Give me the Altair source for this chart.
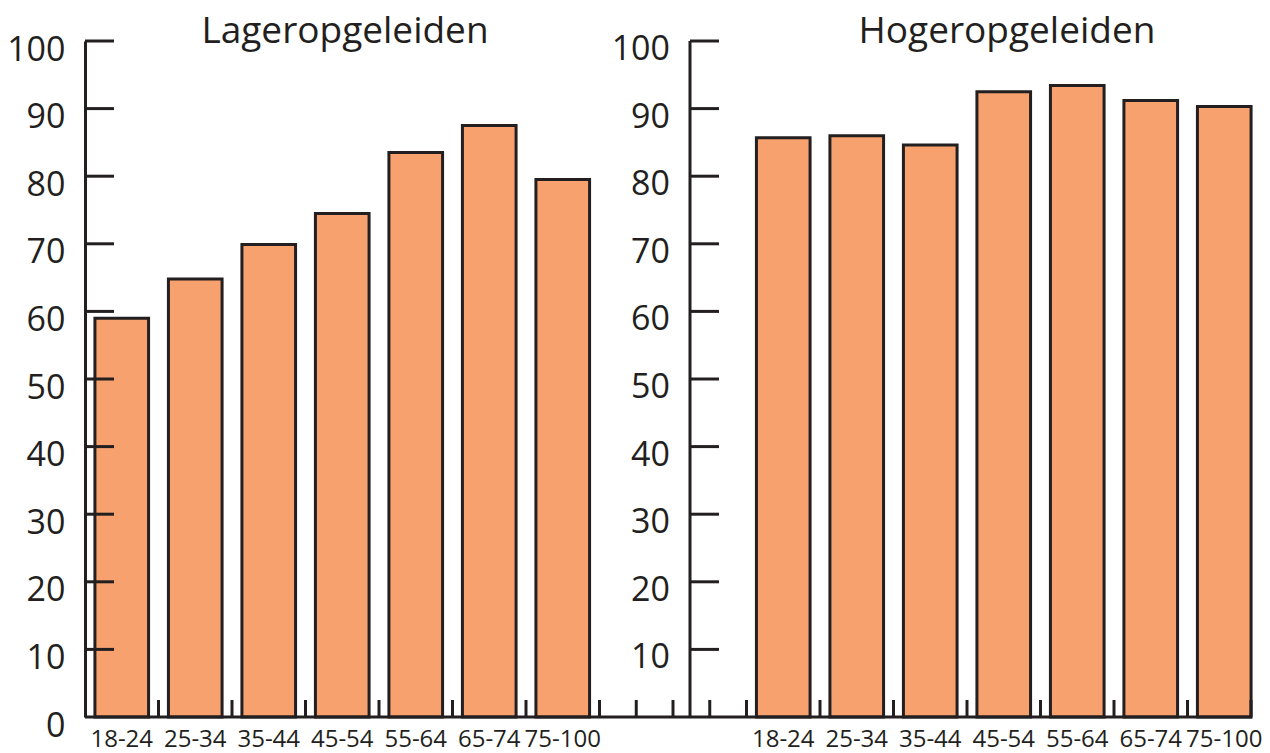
import altair as alt
import pandas as pd

# ---- data ----
ages = ["18-24", "25-34", "35-44", "45-54", "55-64", "65-74", "75-100"]
lager = [59.0, 64.8, 69.9, 74.5, 83.5, 87.5, 79.5]
hoger = [85.7, 86.0, 84.6, 92.5, 93.4, 91.2, 90.3]
panel_titles = ["Lageropgeleiden", "Hogeropgeleiden"]
y_ticks = [0, 10, 20, 30, 40, 50, 60, 70, 80, 90, 100]
right_ticks = [10, 20, 30, 40, 50, 60, 70, 80, 90, 100]

# ---- styling ----
W, H = 1167, 676
RANGE_W = 1176
INK = "#231f20"
FILL = "#F6A16E"
FONT = "Open Sans"
P_IN = 0.27
RIGHT_AXIS_X = 605
TICK_LEN = 29
LABEL_DY = 9

left_keys = [f"L|{a}" for a in ages]
right_keys = [f"R|{a}" for a in ages]
gap_keys = ["gap1", "gap2"]
keys = left_keys + gap_keys + right_keys
STEP = RANGE_W / len(keys)
HALF_GAP = STEP * P_IN / 2

bars_df = pd.DataFrame({"key": left_keys + right_keys, "value": lager + hoger})
keys_df = pd.DataFrame({"key": keys[:-1]})
gaps_df = pd.DataFrame({"key": gap_keys})
yt_df = pd.DataFrame({"t": y_ticks[1:]})
rt_df = pd.DataFrame({"t": right_ticks})
one_df = pd.DataFrame({"a": [0]})

xscale = alt.Scale(domain=keys, paddingInner=P_IN, paddingOuter=P_IN / 2, range=[0, RANGE_W])
yscale = alt.Scale(domain=[0, 100], nice=False)

x_axis = alt.Axis(
    labelExpr="indexof(datum.value,'|') >= 0 ? split(datum.value,'|')[1] : ''",
    labelAngle=0, labelFont=FONT, labelFontSize=24, labelColor=INK,
    labelPadding=10, ticks=False, tickSize=0, domain=False,
    title=None, grid=False, labelOverlap=False,
)
y_axis = alt.Axis(
    values=y_ticks, labelFont=FONT, labelFontSize=34, labelColor=INK,
    labelPadding=20, labelOffset=LABEL_DY, ticks=False, tickSize=0,
    domain=True, domainWidth=3, domainColor=INK, title=None, grid=False,
)

bars = alt.Chart(bars_df).mark_bar(fill=FILL, stroke=INK, strokeWidth=3).encode(
    x=alt.X("key:N", scale=xscale, axis=x_axis),
    y=alt.Y("value:Q", scale=yscale, axis=y_axis),
)

x_line = alt.Chart(one_df).mark_rule(color=INK, strokeWidth=3).encode(
    x=alt.value(0), x2=alt.value(W), y=alt.value(H),
)
x_ticks = alt.Chart(keys_df).mark_rule(color=INK, strokeWidth=3, xOffset=HALF_GAP).encode(
    x=alt.X("key:N", scale=xscale, axis=x_axis, bandPosition=1),
    y=alt.value(H - 17), y2=alt.value(H),
)
x_mid_ticks = alt.Chart(gaps_df).mark_rule(color=INK, strokeWidth=3).encode(
    x=alt.X("key:N", scale=xscale, axis=x_axis, bandPosition=0.5),
    y=alt.value(H - 17), y2=alt.value(H),
)
x_end_tick = alt.Chart(one_df).mark_rule(color=INK, strokeWidth=3).encode(
    x=alt.value(W - 1), y=alt.value(H - 17), y2=alt.value(H),
)

left_y_ticks = alt.Chart(yt_df).mark_rule(color=INK, strokeWidth=3).encode(
    y=alt.Y("t:Q", scale=yscale, axis=y_axis),
    x=alt.value(0), x2=alt.value(TICK_LEN),
)

right_axis_line = alt.Chart(one_df).mark_rule(color=INK, strokeWidth=3).encode(
    x=alt.value(RIGHT_AXIS_X), y=alt.value(0), y2=alt.value(H),
)
right_y_ticks = alt.Chart(rt_df).mark_rule(color=INK, strokeWidth=3).encode(
    y=alt.Y("t:Q", scale=yscale, axis=y_axis),
    x=alt.value(RIGHT_AXIS_X), x2=alt.value(RIGHT_AXIS_X + TICK_LEN),
)
right_y_labels = alt.Chart(rt_df).mark_text(
    font=FONT, fontSize=34, color=INK, align="right", baseline="middle", dy=LABEL_DY,
).encode(
    y=alt.Y("t:Q", scale=yscale, axis=y_axis),
    x=alt.value(RIGHT_AXIS_X - 20),
    text="t:Q",
)

title_left = alt.Chart(one_df).mark_text(
    text=panel_titles[0], font=FONT, fontSize=37, color=INK,
    align="center", baseline="alphabetic",
).encode(x=alt.value(260), y=alt.value(2))
title_right = alt.Chart(one_df).mark_text(
    text=panel_titles[1], font=FONT, fontSize=37, color=INK,
    align="center", baseline="alphabetic",
).encode(x=alt.value(922), y=alt.value(2))

chart = alt.layer(
    bars, x_line, x_ticks, x_mid_ticks, x_end_tick, left_y_ticks,
    right_axis_line, right_y_ticks, right_y_labels, title_left, title_right,
).properties(
    width=W, height=H,
    autosize=alt.AutoSizeParams(type="none"),
    padding={"left": 77, "top": 33, "right": 10, "bottom": 36},
).configure_view(stroke=None)

chart.save("out.html", embed_options={"renderer": "svg", "actions": False})
